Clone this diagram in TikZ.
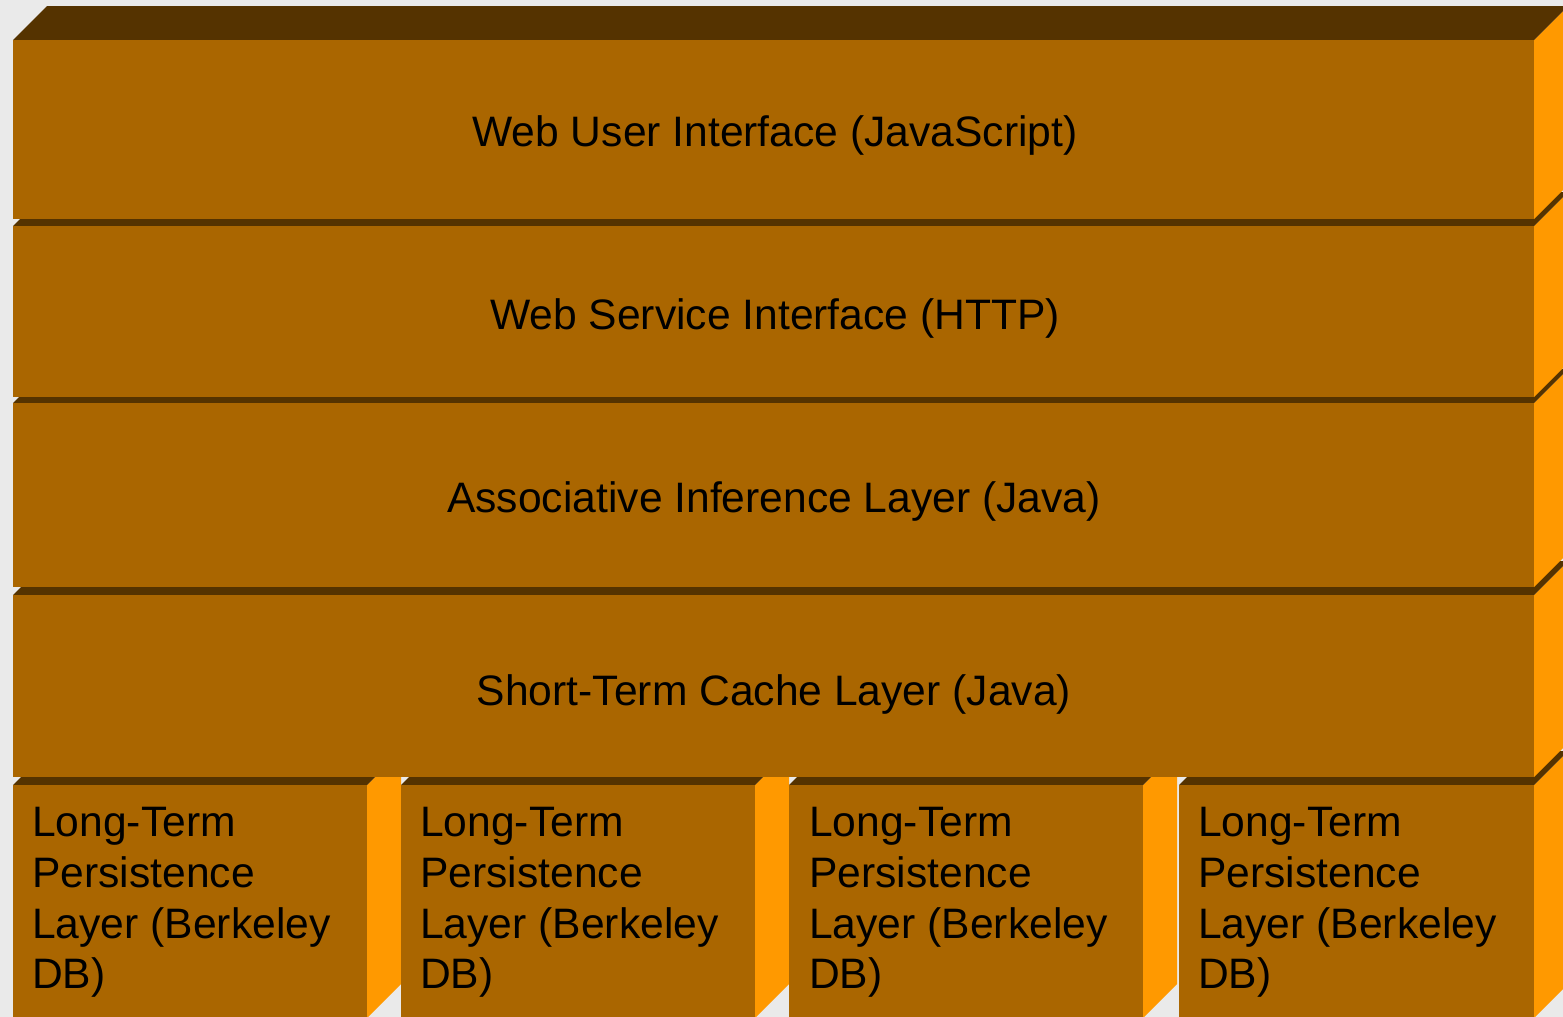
\documentclass[tikz,border=0pt]{standalone}
\usepackage{fontspec}
\setmainfont{Liberation Sans}
\usepackage{tikz}
\usetikzlibrary{positioning}

\definecolor{boxfront}{HTML}{AA6600}
\definecolor{boxtop}{HTML}{553300}
\definecolor{boxside}{HTML}{FF9900}
\definecolor{paper}{HTML}{EAEAEA}

% one layer as a box: left, top, right, bottom of its front face
\newcommand{\layerbox}[4]{%
	\fill[boxside] (#3,#2) -- ++(34,-34) -- (#3+34,#4-34) -- (#3,#4) -- cycle;
	\fill[boxtop] (#1,#2) -- ++(34,-34) -- (#3+34,#2-34) -- (#3,#2) -- cycle;
	\fill[boxfront] (#1,#2) rectangle (#3,#4);
}

\tikzset{
	layertext/.style={font=\fontsize{42.6}{50.8}\selectfont, inner sep=0pt},
	storetext/.style={layertext, align=left, anchor=north west},
}

\begin{document}
\begin{tikzpicture}[x=1pt,y=-1pt]
			\useasboundingbox (0,0) rectangle (1563,1017);
			\clip (0,0) rectangle (1563,1017);
			\fill[paper] (0,0) rectangle (1563,1017);
			
			% Storage boxes at the bottom
			\foreach \x/\w in {13/354,401/354,789/354,1179/355} {
				\layerbox{\x}{785}{\x+\w}{1018}
			}
			
			% Stacked layers, lowest first
			\foreach \t/\b in {595/777,403/587,226/397,40/219} {
				\layerbox{13}{\t}{1534}{\b}
			}
			
			% Layer names
			\node[layertext, anchor=base] (webui) at (775,146) {Web User Interface (JavaScript)};
			\node[layertext, anchor=base] (websvc) at (775,329) {Web Service Interface (HTTP)};
			\node[layertext, anchor=base] (infer) at (774,512) {Associative Inference Layer (Java)};
			\node[layertext, anchor=base] (cache) at (774,705) {Short-Term Cache Layer (Java)};
			
			\foreach \x/\n in {32/1,420/2,809/3,1198/4} {
				\node[storetext] (ltp\n) at (\x,807) {Long-Term\\Persistence\\Layer (Berkeley\\DB)};
			}
\end{tikzpicture}
\end{document}
